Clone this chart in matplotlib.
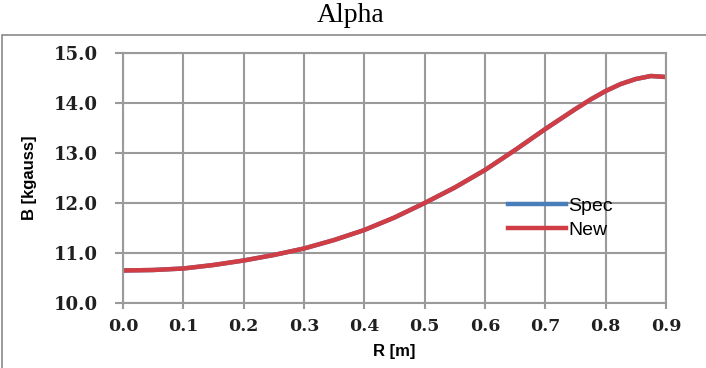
import numpy as np
import matplotlib
matplotlib.use("Agg")
import matplotlib.pyplot as plt
from matplotlib.patches import Rectangle

# Data
r_vals = [0.0, 0.05, 0.1, 0.15, 0.2, 0.25, 0.3, 0.35, 0.4, 0.45, 0.5,
          0.55, 0.6, 0.65, 0.7, 0.75, 0.775, 0.8, 0.825, 0.85, 0.875, 0.9]
b_spec = [10.65, 10.66, 10.69, 10.76, 10.85, 10.96, 11.09, 11.26, 11.46, 11.71, 12.0,
          12.31, 12.66, 13.06, 13.48, 13.88, 14.07, 14.24, 14.38, 14.48, 14.54, 14.52]
b_new = list(b_spec)
x_ticks = [0.0, 0.1, 0.2, 0.3, 0.4, 0.5, 0.6, 0.7, 0.8, 0.9]
y_ticks = [10.0, 11.0, 12.0, 13.0, 14.0, 15.0]

grid_col = "#9a9a9a"

fig = plt.figure(figsize=(7.06, 3.68), dpi=100)
ax = fig.add_axes([123 / 706, 1 - 303 / 368, 543 / 706, 250 / 368])

# Outer chart frame
fig.patches.append(Rectangle((2 / 706, -0.05), 1.0, 1 - 35 / 368 + 0.05,
                             transform=fig.transFigure, fill=False,
                             edgecolor="#8a8a8a", linewidth=1.2))

ax.plot(r_vals, b_spec, color="#4a7ebb", linewidth=3.2, label="Spec", solid_joinstyle="round")
ax.plot(r_vals, b_new, color="#d13d44", linewidth=3.2, label="New", solid_joinstyle="round")

ax.set_xlim(0, 0.9)
ax.set_ylim(10, 15)
ax.set_xticks(x_ticks)
ax.set_yticks(y_ticks)
ax.set_xticklabels(["%.1f" % v for v in x_ticks], family="DejaVu Serif",
                   fontweight="bold", fontsize=12.5, color="#202020")
ax.set_yticklabels(["%.1f" % v for v in y_ticks], family="DejaVu Serif",
                   fontweight="bold", fontsize=13, color="#202020")
ax.tick_params(axis="y", length=6, width=1.5, color=grid_col, pad=12)
ax.tick_params(axis="x", length=4, width=1.5, color=grid_col, pad=7)
ax.grid(True, color=grid_col, linewidth=1.5)
ax.set_axisbelow(True)
for s in ax.spines.values():
    s.set_color(grid_col)
    s.set_linewidth(1.5)

ax.set_xlabel("R [m]", family="Liberation Sans", fontweight="bold", fontsize=12, labelpad=6)
ax.set_ylabel("B [kgauss]", family="Liberation Sans", fontweight="bold", fontsize=12, labelpad=12)

fig.text(351 / 706, 1 - 16 / 368, "Alpha", family="Liberation Serif", fontsize=20,
         ha="center", va="center")

ax.legend(loc="center left", bbox_to_anchor=(498 / 706, 1 - 218 / 368),
          bbox_transform=fig.transFigure, frameon=False,
          prop={"family": "Liberation Sans", "size": 14},
          handlelength=3.0, handletextpad=0.1, labelspacing=0.3, borderpad=0)

fig.savefig("out.png", dpi=100)
